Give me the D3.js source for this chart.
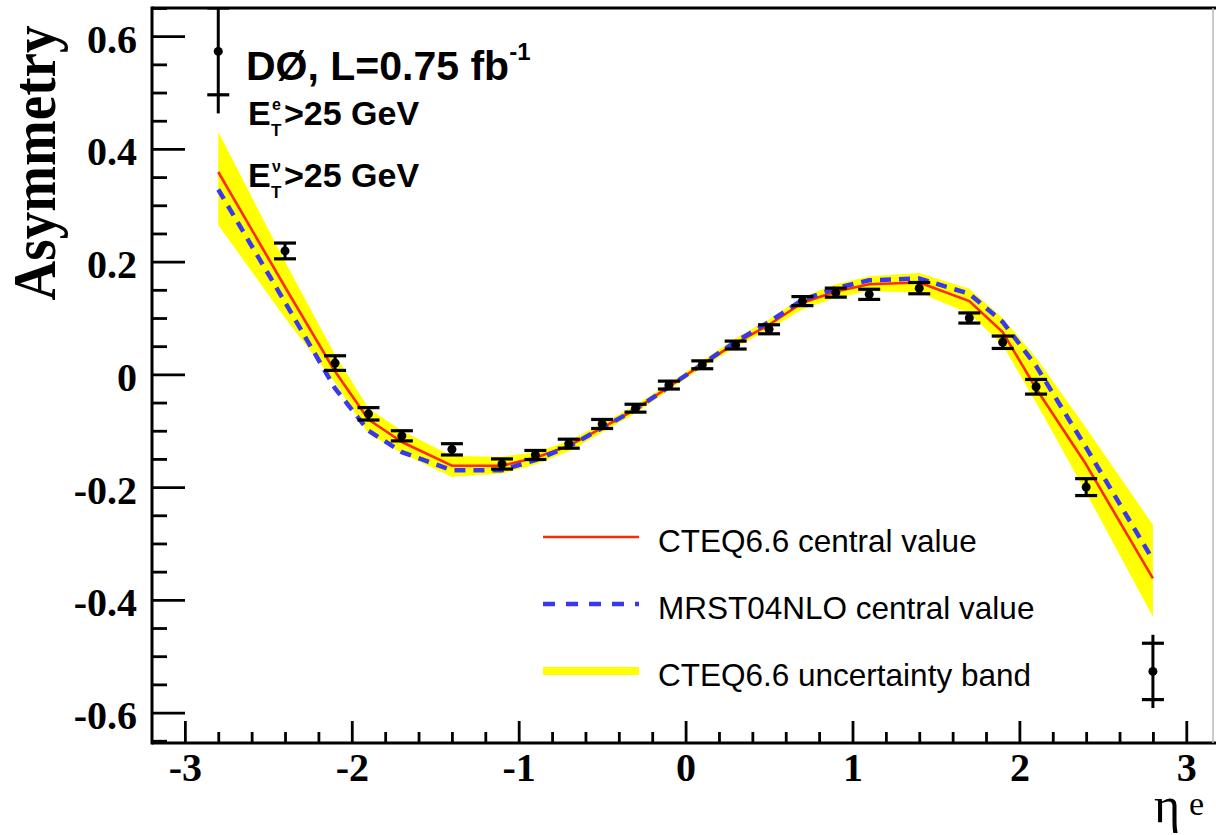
<!DOCTYPE html>
<html>
<head>
<meta charset="utf-8">
<script src="https://cdn.jsdelivr.net/npm/d3@7"></script>
<style>
  body { margin: 0; background: #fff; }
  svg { display: block; }
</style>
</head>
<body>
<script>
// Electron charge asymmetry vs electron pseudorapidity
const etaBins = [-2.8, -2.4, -2.1, -1.9, -1.7, -1.4, -1.1, -0.9, -0.7, -0.5, -0.3, -0.1,
                  0.1,  0.3,  0.5,  0.7,  0.9,  1.1,  1.4,  1.7,  1.9,  2.1,  2.4,  2.8];

// measured asymmetry with statistical and total uncertainties
const asymData = [0.573, 0.219, 0.020, -0.070, -0.109, -0.133, -0.159, -0.143, -0.123, -0.088, -0.060, -0.019,
                  0.017, 0.052, 0.080, 0.130, 0.145, 0.142, 0.153, 0.100, 0.057, -0.022, -0.200, -0.527];
const statErr  = [0.077, 0.014, 0.013, 0.011, 0.009, 0.010, 0.009, 0.008, 0.008, 0.008, 0.007, 0.007,
                  0.007, 0.007, 0.008, 0.008, 0.008, 0.009, 0.010, 0.009, 0.011, 0.013, 0.015, 0.050];
const totalErr = [0.110, 0.014, 0.013, 0.011, 0.009, 0.010, 0.009, 0.008, 0.008, 0.008, 0.007, 0.007,
                  0.007, 0.007, 0.008, 0.008, 0.008, 0.009, 0.010, 0.009, 0.011, 0.013, 0.015, 0.065];

// theory predictions
const cteqCentral = [0.359, 0.155, 0.005, -0.080, -0.120, -0.162, -0.162, -0.148, -0.127, -0.095, -0.062, -0.022,
                     0.018, 0.055, 0.088, 0.127, 0.147, 0.160, 0.163, 0.130, 0.075, -0.025, -0.160, -0.362];
const mrstCentral = [0.328, 0.128, -0.025, -0.100, -0.138, -0.170, -0.170, -0.152, -0.128, -0.095, -0.062, -0.022,
                     0.018, 0.058, 0.093, 0.132, 0.153, 0.167, 0.170, 0.143, 0.093, 0.015, -0.130, -0.329];
const cteqBandLo  = [0.265, 0.100, -0.015, -0.105, -0.140, -0.182, -0.176, -0.160, -0.137, -0.103, -0.069, -0.028,
                     0.012, 0.048, 0.080, 0.115, 0.136, 0.148, 0.145, 0.108, 0.052, -0.050, -0.210, -0.430];
const cteqBandHi  = [0.430, 0.200, 0.035, -0.060, -0.100, -0.145, -0.146, -0.138, -0.118, -0.087, -0.055, -0.016,
                     0.024, 0.064, 0.098, 0.137, 0.160, 0.174, 0.180, 0.152, 0.100, 0.030, -0.095, -0.267];

// axis ticks
const xMajorTicks = [-3, -2, -1, 0, 1, 2, 3];
const yMajorTicks = [-0.6, -0.4, -0.2, 0, 0.2, 0.4, 0.6];

const legendLabels = ["CTEQ6.6 central value", "MRST04NLO central value", "CTEQ6.6 uncertainty band"];

const W = 1216, H = 835;
const frame = { left: 152, right: 1213, top: 8, bottom: 743 };

const x = d3.scaleLinear().domain([-3.197, 3.16]).range([frame.left, frame.right]);
const y = d3.scaleLinear().domain([-0.654, 0.650]).range([frame.bottom, frame.top]);

const svg = d3.select("body").append("svg")
  .attr("width", W).attr("height", H)
  .attr("viewBox", `0 0 ${W} ${H}`);

svg.append("defs").append("clipPath").attr("id", "plotClip")
  .append("rect")
  .attr("x", frame.left).attr("y", frame.top)
  .attr("width", frame.right - frame.left).attr("height", frame.bottom - frame.top);

const plot = svg.append("g").attr("clip-path", "url(#plotClip)");

const pts = etaBins.map((eta, i) => ({
  eta, a: asymData[i], stat: statErr[i], tot: totalErr[i],
  cteq: cteqCentral[i], mrst: mrstCentral[i], lo: cteqBandLo[i], hi: cteqBandHi[i]
}));

// uncertainty band
plot.append("path")
  .datum(pts)
  .attr("fill", "#ffff00")
  .attr("stroke", "none")
  .attr("d", d3.area().x(d => x(d.eta)).y0(d => y(d.lo)).y1(d => y(d.hi)));

// CTEQ6.6 central
plot.append("path")
  .datum(pts)
  .attr("fill", "none")
  .attr("stroke", "#ff2a00")
  .attr("stroke-width", 2.6)
  .attr("stroke-linejoin", "round")
  .attr("d", d3.line().x(d => x(d.eta)).y(d => y(d.cteq)));

// MRST04NLO central
plot.append("path")
  .datum(pts)
  .attr("fill", "none")
  .attr("stroke", "#3838f2")
  .attr("stroke-width", 4.5)
  .attr("stroke-dasharray", "11,8")
  .attr("d", d3.line().x(d => x(d.eta)).y(d => y(d.mrst)));

// data points
const capHalf = 11;
const dataG = plot.append("g").attr("stroke", "#000").attr("fill", "#000");
const pg = dataG.selectAll("g.pt").data(pts).join("g").attr("class", "pt");
pg.append("line")
  .attr("x1", d => x(d.eta)).attr("x2", d => x(d.eta))
  .attr("y1", d => y(d.a + d.tot)).attr("y2", d => y(d.a - d.tot))
  .attr("stroke-width", 3);
pg.append("line")
  .attr("x1", d => x(d.eta) - capHalf).attr("x2", d => x(d.eta) + capHalf)
  .attr("y1", d => y(d.a + d.stat)).attr("y2", d => y(d.a + d.stat))
  .attr("stroke-width", 3.2);
pg.append("line")
  .attr("x1", d => x(d.eta) - capHalf).attr("x2", d => x(d.eta) + capHalf)
  .attr("y1", d => y(d.a - d.stat)).attr("y2", d => y(d.a - d.stat))
  .attr("stroke-width", 3.2);
pg.append("circle")
  .attr("cx", d => x(d.eta)).attr("cy", d => y(d.a))
  .attr("r", 4.5).attr("stroke", "none");

// axes (ticks point into the frame)
const tickFont = "'Liberation Serif', 'Times New Roman', serif";

const yMinor = d3.range(-0.65, 0.651, 0.05).map(v => +v.toFixed(2))
  .filter(v => !yMajorTicks.some(t => Math.abs(t - v) < 1e-6));
const xMinor = d3.range(-3.2, 3.21, 0.2).map(v => +v.toFixed(2))
  .filter(v => !xMajorTicks.some(t => Math.abs(t - v) < 1e-6) && v > -3.197 && v < 3.16);

function styleAxis(g) {
  g.select(".domain").remove();
  g.selectAll(".tick line").attr("stroke", "#000").attr("stroke-width", 2.8);
  g.selectAll(".tick text")
    .attr("fill", "#000")
    .style("font-family", tickFont)
    .style("font-weight", "bold")
    .style("font-size", "40px");
}

svg.append("g")
  .attr("transform", `translate(${frame.left},0)`)
  .call(d3.axisLeft(y).tickValues(yMinor).tickSize(-15).tickFormat(""))
  .call(styleAxis);
svg.append("g")
  .attr("transform", `translate(${frame.left},0)`)
  .call(d3.axisLeft(y).tickValues(yMajorTicks).tickSize(-33).tickPadding(15).tickFormat(d => String(d)))
  .call(styleAxis)
  .call(g => g.selectAll(".tick text").attr("dy", "0.4em"));

svg.append("g")
  .attr("transform", `translate(0,${frame.bottom})`)
  .call(d3.axisBottom(x).tickValues(xMinor).tickSize(-11).tickFormat(""))
  .call(styleAxis);
svg.append("g")
  .attr("transform", `translate(0,${frame.bottom})`)
  .call(d3.axisBottom(x).tickValues(xMajorTicks).tickSize(-22).tickPadding(10).tickFormat(d => String(d)))
  .call(styleAxis);

// frame
svg.append("line")
  .attr("x1", frame.left).attr("x2", frame.left)
  .attr("y1", frame.top - 1.5).attr("y2", frame.bottom + 1.5)
  .attr("stroke", "#000").attr("stroke-width", 3);
svg.append("line")
  .attr("x1", frame.left).attr("x2", W)
  .attr("y1", frame.bottom).attr("y2", frame.bottom)
  .attr("stroke", "#000").attr("stroke-width", 3);
svg.append("line")
  .attr("x1", frame.left).attr("x2", W)
  .attr("y1", frame.top).attr("y2", frame.top)
  .attr("stroke", "#000").attr("stroke-width", 3);
svg.append("line")
  .attr("x1", frame.right).attr("x2", frame.right)
  .attr("y1", frame.top).attr("y2", frame.bottom)
  .attr("stroke", "#b8b8b8").attr("stroke-width", 1.5);

// axis titles
svg.append("text")
  .attr("transform", "translate(55,163) scale(1.12,1) rotate(-90)")
  .attr("text-anchor", "middle")
  .style("font-family", tickFont)
  .style("font-weight", "bold")
  .style("font-size", "55px")
  .text("Asymmetry");

svg.append("text")
  .attr("x", 1154).attr("y", 822)
  .style("font-family", tickFont)
  .style("font-size", "50px")
  .text("η");
svg.append("text")
  .attr("x", 1189).attr("y", 815)
  .style("font-family", tickFont)
  .style("font-size", "34px")
  .text("e");

// experiment label and cuts
const sans = "'Liberation Sans', Arial, Helvetica, sans-serif";
const title = svg.append("text")
  .attr("x", 246).attr("y", 80)
  .style("font-family", sans).style("font-weight", "bold").style("font-size", "41px");
title.append("tspan").text("DØ, L=0.75 fb");
title.append("tspan").attr("dy", -20).style("font-size", "24px").text("-1");

function cutLabel(sup, baseline) {
  const g = svg.append("g")
    .style("font-family", sans).style("font-weight", "bold");
  g.append("text").attr("x", 248).attr("y", baseline).style("font-size", "34px").text("E");
  g.append("text").attr("x", 272).attr("y", baseline - 15).style("font-size", "16px").text(sup);
  g.append("text").attr("x", 271).attr("y", baseline + 11).style("font-size", "17px").text("T");
  g.append("text").attr("x", 284).attr("y", baseline).style("font-size", "34px").text(">25 GeV");
}
cutLabel("e", 125);
cutLabel("ν", 187);

// legend
const legendRows = [
  { label: legendLabels[0], y: 537, stroke: "#ff2a00", width: 2.6, dash: null },
  { label: legendLabels[1], y: 604, stroke: "#3838f2", width: 4.5, dash: "12,11" },
  { label: legendLabels[2], y: 671, stroke: "#ffff00", width: 8, dash: null }
];
const lg = svg.append("g");
legendRows.forEach(r => {
  lg.append("line")
    .attr("x1", 543).attr("x2", 639)
    .attr("y1", r.y).attr("y2", r.y)
    .attr("stroke", r.stroke).attr("stroke-width", r.width)
    .attr("stroke-dasharray", r.dash);
  lg.append("text")
    .attr("x", 658).attr("y", r.y + 15)
    .style("font-family", sans).style("font-size", "31.5px")
    .attr("fill", "#000")
    .text(r.label);
});
</script>
</body>
</html>
